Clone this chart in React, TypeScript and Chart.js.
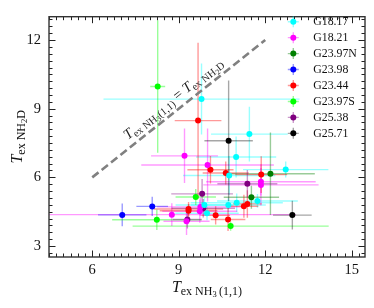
import React, { useEffect, useRef } from "react";
import { Chart, registerables } from "chart.js";

Chart.register(...registerables);

const FONT = "'Liberation Serif', 'Times New Roman', serif";

const seriesNames = ["G18.17", "G18.21", "G23.97N", "G23.98", "G23.44", "G23.97S", "G25.38", "G25.71"];
const seriesColors = ["#00ffff", "#ff00ff", "#008000", "#0000ff", "#ff0000", "#00ff00", "#800080", "#000000"];

// G18.17
const g1817X = [9.79, 11.45, 10.99, 12.71, 10.75, 11.73, 11.01, 10.72, 9.89, 9.98];
const g1817Y = [9.42, 7.89, 6.89, 6.34, 6.08, 4.97, 4.89, 4.79, 4.79, 4.43];
const g1817XErr = [3.4, 1.33, 1.39, 1.48, 1.6, 1.4, 1.6, 1.3, 1.0, 1.1];
const g1817YErr = [1.55, 1.2, 0.9, 0.35, 0.85, 0.3, 0.4, 0.3, 0.3, 0.3];
// G18.21
const g1821X = [9.2, 10.0, 11.85, 11.85, 8.76, 9.75, 9.73, 9.27];
const g1821Y = [6.94, 6.54, 5.81, 5.67, 4.37, 4.71, 4.52, 4.08];
const g1821XErr = [1.16, 2.3, 1.9, 2.0, 4.3, 1.5, 1.3, 0.8];
const g1821YErr = [1.19, 1.6, 0.6, 0.9, 0.5, 0.4, 0.5, 0.6];
// G23.97N
const g2397NX = [12.18, 11.52];
const g2397NY = [6.16, 5.13];
const g2397NXErr = [1.54, 0.96];
const g2397NYErr = [1.8, 0.5];
// G23.98
const g2398X = [7.04, 8.08];
const g2398Y = [4.36, 4.73];
const g2398XErr = [0.84, 0.55];
const g2398YErr = [0.5, 0.42];
// G23.44
const g2344X = [9.67, 10.1, 10.63, 11.86, 9.34, 9.34, 10.28, 10.71, 11.26, 11.38];
const g2344Y = [8.48, 6.33, 6.19, 6.12, 4.62, 4.54, 4.34, 4.16, 4.74, 4.84];
const g2344XErr = [0.81, 0.8, 0.8, 0.9, 1.2, 1.0, 0.5, 0.6, 0.5, 0.5];
const g2344YErr = [3.4, 0.6, 0.5, 0.8, 0.3, 0.3, 0.4, 0.5, 0.5, 0.6];
// G23.97S
const g2397SX = [8.27, 9.59, 8.24, 10.8];
const g2397SY = [9.97, 5.14, 4.15, 3.87];
const g2397SXErr = [0.26, 0.7, 1.55, 3.4];
const g2397SYErr = [2.9, 0.35, 0.45, 0.2];
// G25.38
const g2538X = [9.81, 11.38, 9.85, 9.3];
const g2538Y = [5.28, 5.72, 4.65, 4.16];
const g2538XErr = [1.07, 1.04, 1.1, 0.5];
const g2538YErr = [0.65, 0.6, 0.4, 0.4];
// G25.71
const g2571X = [10.73, 12.94];
const g2571Y = [7.6, 4.35];
const g2571XErr = [0.84, 0.67];
const g2571YErr = [2.63, 0.63];

const seriesX = [g1817X, g1821X, g2397NX, g2398X, g2344X, g2397SX, g2538X, g2571X];
const seriesY = [g1817Y, g1821Y, g2397NY, g2398Y, g2344Y, g2397SY, g2538Y, g2571Y];
const seriesXErr = [g1817XErr, g1821XErr, g2397NXErr, g2398XErr, g2344XErr, g2397SXErr, g2538XErr, g2571XErr];
const seriesYErr = [g1817YErr, g1821YErr, g2397NYErr, g2398YErr, g2344YErr, g2397SYErr, g2538YErr, g2571YErr];

const xTickValues = [6, 9, 12, 15];
const yTickValues = [3, 6, 9, 12];
const xRange = [4.5, 15.46];
const yRange = [2.52, 13.02];
const equalityEnds = [6, 12];
const annotationAt = 9.05;

function rgba(hex: string, a: number) {
  const n = parseInt(hex.slice(1), 16);
  return `rgba(${(n >> 16) & 255},${(n >> 8) & 255},${n & 255},${a})`;
}

type Seg = { t: string; size: number; italic?: boolean; dy?: number };
function fontOf(s: Seg) {
  return `${s.italic ? "italic " : ""}${s.size}px ${FONT}`;
}
function segsWidth(ctx: CanvasRenderingContext2D, segs: Seg[]) {
  let w = 0;
  for (const s of segs) {
    ctx.font = fontOf(s);
    w += ctx.measureText(s.t).width;
  }
  return w;
}
function drawSegs(ctx: CanvasRenderingContext2D, segs: Seg[], x: number, y: number) {
  let cx = x;
  ctx.textAlign = "left";
  ctx.textBaseline = "alphabetic";
  for (const s of segs) {
    ctx.font = fontOf(s);
    ctx.fillText(s.t, cx, y + (s.dy || 0));
    cx += ctx.measureText(s.t).width;
  }
}

const errorBarPlugin = {
  id: "errorBars",
  beforeDatasetsDraw(chart: any) {
    const ctx = chart.ctx as CanvasRenderingContext2D;
    const xs = chart.scales.x;
    const ys = chart.scales.y;
    const a = chart.chartArea;
    ctx.save();
    ctx.beginPath();
    ctx.rect(a.left, a.top, a.right - a.left, a.bottom - a.top);
    ctx.clip();
    ctx.lineWidth = 1.4;
    chart.data.datasets.forEach((ds: any) => {
      if (!ds.xErr) return;
      ctx.strokeStyle = rgba(ds.baseColor, ds.baseColor === "#000000" ? 0.35 : 0.4);
      ds.data.forEach((p: any, j: number) => {
        const px = xs.getPixelForValue(p.x);
        const py = ys.getPixelForValue(p.y);
        ctx.beginPath();
        ctx.moveTo(xs.getPixelForValue(p.x - ds.xErr[j]), py);
        ctx.lineTo(xs.getPixelForValue(p.x + ds.xErr[j]), py);
        ctx.moveTo(px, ys.getPixelForValue(p.y - ds.yErr[j]));
        ctx.lineTo(px, ys.getPixelForValue(p.y + ds.yErr[j]));
        ctx.stroke();
      });
    });
    ctx.restore();
  },
};

const decorPlugin = {
  id: "decor",
  afterDraw(chart: any) {
    const ctx = chart.ctx as CanvasRenderingContext2D;
    const xs = chart.scales.x;
    const ys = chart.scales.y;
    const a = chart.chartArea;
    ctx.save();
    // ticks inward on all sides
    ctx.strokeStyle = "#222";
    ctx.lineWidth = 1;
    ctx.beginPath();
    for (let k = Math.ceil(xRange[0] / 0.25); k <= Math.floor(xRange[1] / 0.25); k++) {
      const v = k * 0.25;
      const len = k % 12 === 0 ? 6.5 : 3.5;
      const px = Math.round(xs.getPixelForValue(v)) + 0.5;
      ctx.moveTo(px, a.bottom);
      ctx.lineTo(px, a.bottom - len);
      ctx.moveTo(px, a.top);
      ctx.lineTo(px, a.top + len);
    }
    for (let k = Math.ceil(yRange[0] / 0.3); k <= Math.floor(yRange[1] / 0.3); k++) {
      const v = k * 0.3;
      const len = k % 10 === 0 ? 6.5 : 3.5;
      const py = Math.round(ys.getPixelForValue(v)) + 0.5;
      ctx.moveTo(a.left, py);
      ctx.lineTo(a.left + len, py);
      ctx.moveTo(a.right, py);
      ctx.lineTo(a.right - len, py);
    }
    ctx.stroke();
    // frame
    ctx.lineWidth = 1.4;
    ctx.strokeStyle = "#333";
    ctx.strokeRect(a.left, a.top, a.right - a.left, a.bottom - a.top);

    ctx.fillStyle = "#111";
    // x title
    const xt: Seg[] = [
      { t: "T", size: 16, italic: true },
      { t: "ex NH", size: 12, dy: 3 },
      { t: "3", size: 8.5, dy: 5.5 },
      { t: "\u2009(1,1)", size: 12, dy: 3 },
    ];
    const xw = segsWidth(ctx, xt);
    drawSegs(ctx, xt, (a.left + a.right) / 2 - xw / 2, 291.5);
    // y title
    const yt: Seg[] = [
      { t: "T", size: 16, italic: true },
      { t: "ex NH", size: 12, dy: 3 },
      { t: "2", size: 8.5, dy: 5.5 },
      { t: "D", size: 12, dy: 3 },
    ];
    const yw = segsWidth(ctx, yt);
    ctx.save();
    ctx.translate(21.5, (a.top + a.bottom) / 2);
    ctx.rotate(-Math.PI / 2);
    drawSegs(ctx, yt, -yw / 2, 0);
    ctx.restore();

    // annotation along equality line
    const p1x = xs.getPixelForValue(equalityEnds[0]);
    const p1y = ys.getPixelForValue(equalityEnds[0]);
    const p2x = xs.getPixelForValue(equalityEnds[1]);
    const p2y = ys.getPixelForValue(equalityEnds[1]);
    const ang = Math.atan2(p2y - p1y, p2x - p1x);
    const at: Seg[] = [
      { t: "T", size: 14.5, italic: true },
      { t: "ex NH", size: 10.5, dy: 3 },
      { t: "3", size: 7.5, dy: 5 },
      { t: "(1,1)", size: 10.5, dy: 3 },
      { t: " = ", size: 14.5 },
      { t: "T", size: 14.5, italic: true },
      { t: "ex NH", size: 10.5, dy: 3 },
      { t: "2", size: 7.5, dy: 5 },
      { t: "D", size: 10.5, dy: 3 },
    ];
    const aw = segsWidth(ctx, at);
    ctx.save();
    ctx.translate(xs.getPixelForValue(annotationAt), ys.getPixelForValue(annotationAt));
    ctx.rotate(ang);
    ctx.fillStyle = "#222";
    drawSegs(ctx, at, -aw / 2, -7);
    ctx.restore();

    // legend
    const lx = 293.3;
    const ly0 = 21.7;
    const step = 15.95;
    seriesNames.forEach((name, i) => {
      const y = ly0 + i * step;
      ctx.strokeStyle = rgba(seriesColors[i], seriesColors[i] === "#000000" ? 0.35 : 0.4);
      ctx.lineWidth = 1.4;
      ctx.beginPath();
      ctx.moveTo(lx - 5.5, y);
      ctx.lineTo(lx + 5.5, y);
      ctx.moveTo(lx, y - 5.5);
      ctx.lineTo(lx, y + 5.5);
      ctx.stroke();
      ctx.fillStyle = seriesColors[i];
      ctx.beginPath();
      ctx.arc(lx, y, 3, 0, Math.PI * 2);
      ctx.fill();
      ctx.fillStyle = "#111";
      ctx.font = `11.8px ${FONT}`;
      ctx.textAlign = "left";
      ctx.textBaseline = "middle";
      ctx.fillText(name, 313.3, y + 0.5);
    });
    ctx.restore();
  },
};

export default function App() {
  const ref = useRef<HTMLCanvasElement | null>(null);
  useEffect(() => {
    if (!ref.current) return;
    const datasets: any[] = seriesNames.map((name, i) => ({
      label: name,
      data: seriesX[i].map((x, j) => ({ x, y: seriesY[i][j] })),
      xErr: seriesXErr[i],
      yErr: seriesYErr[i],
      baseColor: seriesColors[i],
      backgroundColor: seriesColors[i],
      borderWidth: 0,
      pointRadius: 3,
      pointHoverRadius: 3,
    }));
    datasets.push({
      label: "equality",
      data: equalityEnds.map((v) => ({ x: v, y: v })),
      showLine: true,
      borderColor: "#808080",
      borderWidth: 2.6,
      borderDash: [8, 4],
      pointRadius: 0,
      fill: false,
    });
    const chart = new Chart(ref.current, {
      type: "scatter",
      data: { datasets },
      options: {
        animation: false,
        responsive: false,
        events: [],
        layout: { padding: { left: 0, top: 7, right: 9, bottom: 0 } },
        plugins: { legend: { display: false }, tooltip: { enabled: false } },
        scales: {
          x: {
            type: "linear",
            min: xRange[0],
            max: xRange[1],
            grid: { display: false, drawTicks: false },
            border: { display: false },
            afterBuildTicks: (s: any) => {
              s.ticks = xTickValues.map((v) => ({ value: v }));
            },
            afterFit: (s: any) => {
              s.height = 51;
            },
            ticks: { font: { family: FONT, size: 14.5 }, color: "#111", padding: 4, maxRotation: 0 },
          },
          y: {
            type: "linear",
            min: yRange[0],
            max: yRange[1],
            grid: { display: false, drawTicks: false },
            border: { display: false },
            afterBuildTicks: (s: any) => {
              s.ticks = yTickValues.map((v) => ({ value: v }));
            },
            afterFit: (s: any) => {
              s.width = 49;
            },
            ticks: { font: { family: FONT, size: 14.5 }, color: "#111", padding: 8 },
          },
        },
      },
      plugins: [errorBarPlugin, decorPlugin],
    } as any);
    return () => chart.destroy();
  }, []);
  return (
    <div style={{ position: "fixed", left: 0, top: 0, width: 374, height: 308, background: "#fff" }}>
      <canvas ref={ref} width={374} height={308} style={{ width: 374, height: 308, display: "block" }} />
    </div>
  );
}
